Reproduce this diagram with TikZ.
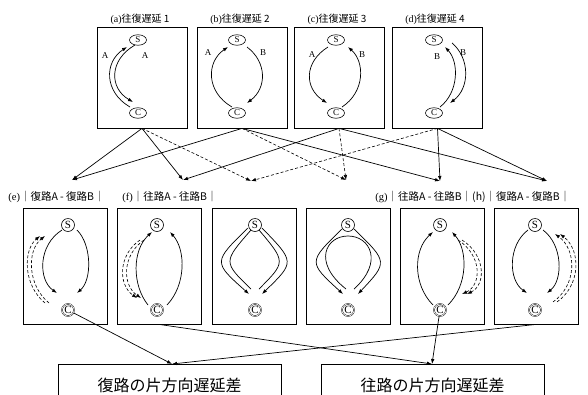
\documentclass[tikz,border=0pt]{standalone}
\usepackage{fontspec}
\setmainfont{Liberation Serif}
\newfontfamily\cjk{Noto Sans CJK JP}
\usetikzlibrary{arrows.meta,calc,shapes.geometric}
\begin{document}
\begin{tikzpicture}[x=1pt,y=-1pt,line width=0.7pt,
  tip/.style={-{Latex[length=5pt,width=3.6pt]}},
  dsh/.style={dash pattern=on 3pt off 2pt,line width=0.6pt},
  topbox/.style={draw,line width=0.8pt,minimum width=90pt,minimum height=101pt,inner sep=0pt},
  botbox/.style={draw,line width=0.8pt,minimum width=84pt,minimum height=116pt,inner sep=0pt},
  bigbox/.style={draw,line width=0.8pt,minimum width=223pt,minimum height=42pt,inner sep=0pt,font=\fontsize{16}{16}\selectfont\cjk},
  ell/.style={draw,ellipse,line width=0.6pt,minimum width=17pt,minimum height=10.5pt,inner sep=0pt,font=\fontsize{9}{9}\selectfont},
  circS/.style={draw,circle,line width=0.6pt,fill=white,minimum size=13pt,inner sep=0pt,font=\fontsize{11}{11}\selectfont},
  circC/.style={draw,circle,line width=0.4pt,double,double distance=0.6pt,fill=white,minimum size=12pt,inner sep=0pt,font=\fontsize{11}{11}\selectfont},
  title/.style={font=\fontsize{10}{10}\selectfont,inner sep=0pt},
  rowlab/.style={font=\fontsize{10.5}{10.5}\selectfont,inner sep=0pt,anchor=west},
  pl/.style={font=\fontsize{9}{9}\selectfont,inner sep=0pt}
]
\useasboundingbox (0,0) rectangle (588,394);

% ---------- top row ----------
\node[topbox] (bA) at (142,77.5) {};
\node[topbox] (bB) at (242,77.5) {};
\node[topbox] (bC) at (339,77.5) {};
\node[topbox] (bD) at (437.5,77.5) {};
\node[title] (tA) at (140,19) {(a)\cjk{往復遅延} 1};
\node[title] (tB) at (240,19) {(b)\cjk{往復遅延} 2};
\node[title] (tC) at (337,19) {(c)\cjk{往復遅延} 3};
\node[title] (tD) at (435,19) {(d)\cjk{往復遅延} 4};
\foreach \n/\x in {A/138,B/237,C/336,D/434}{
  \node[ell] (s\n) at (\x,40) {S};
  \node[ell] (c\n) at (\x,113) {C};
}
% (a)
\draw[tip] (130,107) .. controls (104,92) and (104,62) .. (127,47);
\draw[tip] (135,45) .. controls (109,60) and (109,88) .. (133,102);
\node[pl] (la1) at (105,56) {A};
\node[pl] (la2) at (145,56) {A};
% (b)
\draw[tip] (232,107) .. controls (206,92) and (206,62) .. (228,47);
\draw[tip] (247,47) .. controls (267,62) and (267,88) .. (247,103);
\node[pl] (lb1) at (208,53) {A};
\node[pl] (lb2) at (263,53) {B};
% (c)
\draw[tip] (328,47) .. controls (304,62) and (304,88) .. (327,103);
\draw[tip] (342,107) .. controls (365,92) and (365,62) .. (348,47);
\node[pl] (lc1) at (312,55) {A};
\node[pl] (lc2) at (362,55) {B};
% (d)
\draw[tip] (440,107) .. controls (459,92) and (459,62) .. (445,47);
\draw[tip] (452,43) .. controls (470,58) and (470,88) .. (450,103);
\node[pl] (ld1) at (437,57) {B};
\node[pl] (ld2) at (463,53) {B};

% targets
\coordinate (te) at (72,180);
\coordinate (tf) at (183,180);
\coordinate (t3) at (251,181);
\coordinate (t4) at (346,180);
\coordinate (tg) at (440,181);
\coordinate (th) at (547,181);

\draw[tip] (bA.south) -- (te);
\draw[tip] (bA.south) -- (tf);
\draw[tip,dsh] (bA.south) -- (t3);
\draw[tip] (bB.south) -- (te);
\draw[tip] (bB.south) -- (tg);
\draw[tip,dsh] (bB.south) -- (t4);
\draw[tip] (bC.south) -- (tf);
\draw[tip,dsh] (bC.south) -- (t4);
\draw[tip] (bC.south) -- (th);
\draw[tip,dsh] (bD.south) -- (t3);
\draw[tip] (bD.south) -- (tg);
\draw[tip] (bD.south) -- (th);

% row labels
\node[rowlab] (le) at (8,197) {(e)\cjk{｜復路}A - \cjk{復路}B\cjk{｜}};
\node[rowlab] (lf) at (122,197) {(f)\cjk{｜往路}A - \cjk{往路}B\cjk{｜}};
\node[rowlab] (lg) at (375,197) {(g)\cjk{｜往路}A - \cjk{往路}B\cjk{｜}(h)\cjk{｜復路}A - \cjk{復路}B\cjk{｜}};

% ---------- bottom row ----------
\foreach \i/\x in {1/65,2/159,3/254,4/348,5/442,6/536}{
  \node[botbox] (bx\i) at (\x,266) {};
}
% (e)
\draw[tip] (62,230) .. controls (38,245) and (38,280) .. (57,293);
\draw[tip] (77,230) .. controls (92,245) and (92,280) .. (77,293);
\draw[tip,dsh] (45,303) .. controls (23,285) and (23,250) .. (40,236);
\draw[tip,dsh] (49,303) .. controls (27,285) and (27,250) .. (45,236);
% (f)
\draw[tip] (148,305) .. controls (132,285) and (132,250) .. (152,232);
\draw[tip] (167,305) .. controls (186,285) and (186,250) .. (170,232);
\draw[tip,dsh] (140,240) .. controls (118,255) and (118,285) .. (137,298);
\draw[tip,dsh] (144,240) .. controls (122,255) and (122,285) .. (141,298);
% box 3
\draw[tip] (248,228) .. controls (213,262) and (213,262) .. (249,294);
\draw (251,230) .. controls (223,262) and (223,262) .. (251,289);
\draw[tip] (262,228) .. controls (295,262) and (295,262) .. (262,294);
\draw (259,230) .. controls (286,262) and (286,262) .. (259,289);
% box 4
\draw[tip] (342,229) .. controls (308,262) and (308,262) .. (343,294);
\draw[tip] (354,229) .. controls (388,262) and (388,262) .. (358,294);
\draw (346,289) .. controls (312,262) and (326,236) .. (348,236) .. controls (370,236) and (384,262) .. (354,289);
% (g)
\draw[tip] (433,305) .. controls (413,285) and (413,250) .. (433,232);
\draw[tip] (448,305) .. controls (468,285) and (468,250) .. (452,232);
\draw[tip,dsh] (458,240) .. controls (482,255) and (482,285) .. (462,294);
\draw[tip,dsh] (462,240) .. controls (486,255) and (486,285) .. (467,294);
% (h)
\draw[tip] (528,230) .. controls (508,245) and (508,280) .. (527,293);
\draw[tip] (543,230) .. controls (563,245) and (563,280) .. (547,293);
\draw[tip,dsh] (553,302) .. controls (577,285) and (577,250) .. (555,234);
\draw[tip,dsh] (557,302) .. controls (581,285) and (581,250) .. (560,234);

\foreach \i/\x in {1/68,2/157,3/255,4/348,5/440,6/535}{
  \node[circS] (s\i) at (\x,225) {S};
  \node[circC] (c\i) at (\x,310) {C};
}

% ---------- final boxes ----------
\node[bigbox] (fuku) at (169.5,385) {復路の片方向遅延差};
\node[bigbox] (ofuku) at (432.5,385) {往路の片方向遅延差};
\coordinate (ft) at (172,364);
\coordinate (ot) at (432,364);
\draw[tip] (c1) -- (ft);
\draw[tip] (bx6.south) -- (ft);
\draw[tip] (bx2.south) -- (ot);
\draw[tip] (c5) -- (ot);
\end{tikzpicture}
\end{document}
